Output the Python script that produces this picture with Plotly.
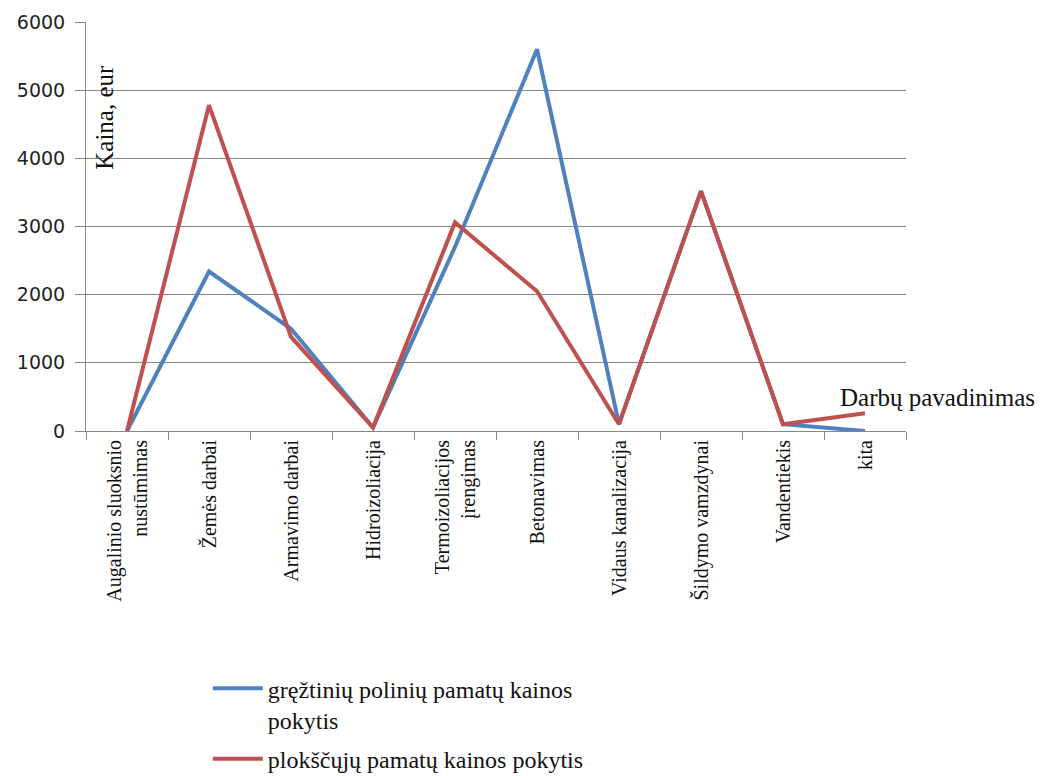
import plotly.graph_objects as go

categories = ["Augalinio sluoksnio<br>nustūmimas", "Žemės darbai", "Armavimo darbai", "Hidroizoliacija",
              "Termoizoliacijos<br>įrengimas", "Betonavimas", "Vidaus kanalizacija", "Šildymo vamzdynai",
              "Vandentiekis", "kita"]
blue_vals = [0, 2340, 1500, 50, 2700, 5600, 100, 3520, 100, 0]
red_vals = [0, 4780, 1380, 50, 3060, 2050, 100, 3520, 100, 260]
series_names = ["gręžtinių polinių pamatų kainos<br>pokytis", "plokščųjų pamatų kainos pokytis"]
y_ticks = [0, 1000, 2000, 3000, 4000, 5000, 6000]

serif = "Liberation Serif, Times New Roman, serif"

fig = go.Figure()
fig.add_trace(go.Scatter(x=categories, y=blue_vals, mode="lines", name=series_names[0],
                         legendgroup="a", line=dict(color="#4F81BD", width=4)))
fig.add_trace(go.Scatter(x=categories, y=red_vals, mode="lines", name=series_names[1],
                         legendgroup="b", line=dict(color="#C0504D", width=4)))

fig.update_layout(
    width=1050, height=768,
    margin=dict(l=78, r=152, t=14, b=345, autoexpand=False),
    paper_bgcolor="white", plot_bgcolor="white",
    showlegend=True,
    legend=dict(x=0.1485, y=0.143, xanchor="left", yanchor="top", valign="top",
                xref="paper", yref="container",
                font=dict(family=serif, size=24, color="#111"),
                traceorder="grouped", tracegroupgap=5, itemwidth=50),
    xaxis=dict(type="category", showline=True, linecolor="#868686", linewidth=1, automargin=False,
               ticks="outside", tickson="boundaries", ticklen=8, tickcolor="#868686",
               tickangle=-90, tickfont=dict(family=serif, size=20, color="#111"),
               showgrid=False, range=[-0.5, 9.5]),
    yaxis=dict(range=[0, 6000], tickvals=y_ticks, showline=True, linecolor="#868686", linewidth=1,
               automargin=False,
               ticks="outside", ticklen=10, tickcolor="#868686", ticklabelstandoff=6,
               tickfont=dict(family="DejaVu Sans, Verdana, sans-serif", size=19, color="#222"),
               showgrid=True, gridcolor="#868686", gridwidth=1, zeroline=False),
    annotations=[
        dict(text="Kaina, eur", xref="paper", yref="paper", x=0.023, y=0.768, textangle=-90,
             xanchor="center", yanchor="middle",
             showarrow=False, font=dict(family=serif, size=25, color="#111")),
        dict(text="Darbų pavadinimas", xref="paper", yref="paper", x=0.917, y=0.083,
             xanchor="left", yanchor="middle", showarrow=False,
             font=dict(family=serif, size=25, color="#111")),
    ],
)

fig.write_html("out.html")
